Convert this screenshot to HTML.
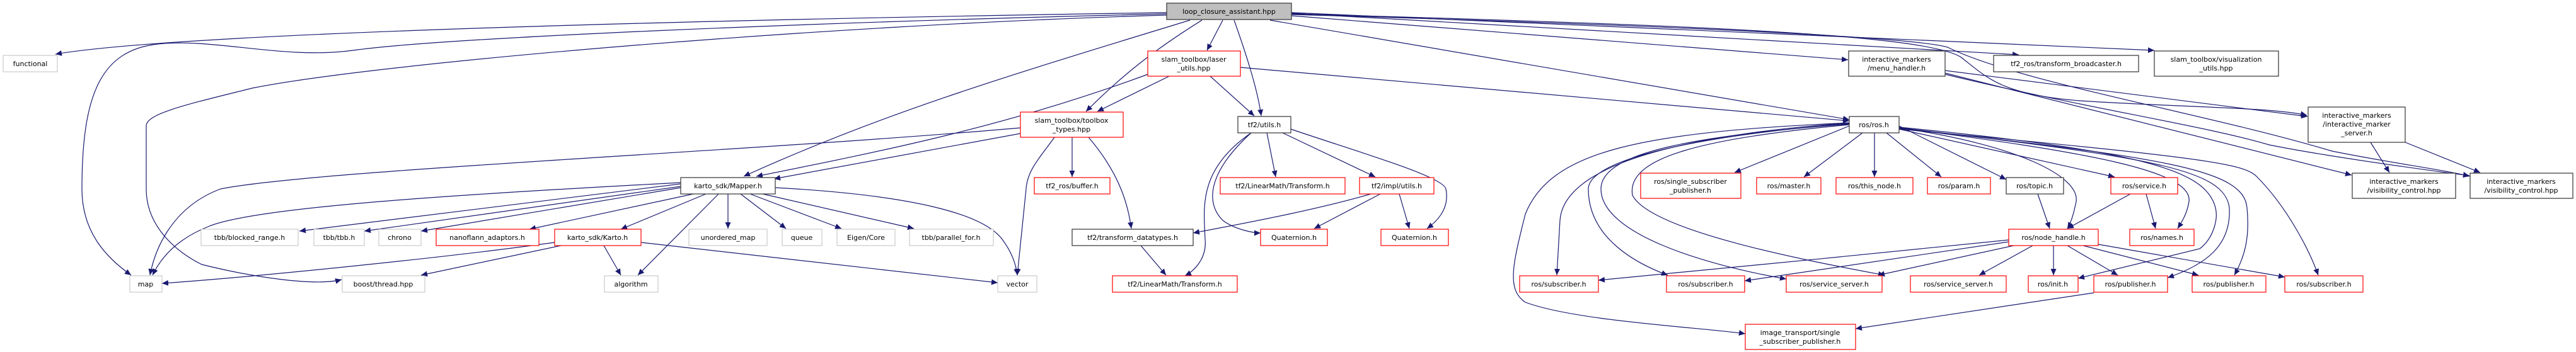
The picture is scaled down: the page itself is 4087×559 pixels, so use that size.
<!DOCTYPE html>
<html><head><meta charset="utf-8"><style>
html,body{margin:0;padding:0;background:#fff;}
svg{display:block;}
text{font-family:"DejaVu Sans","Liberation Sans",sans-serif;font-size:11px;fill:#000;text-anchor:middle;}
.e{fill:none;stroke:#191970;stroke-width:1.2;marker-end:url(#a);}
.g{fill:#fff;stroke:#bfbfbf;}
.b{fill:#fff;stroke:#404040;stroke-width:1.3;}
.r{fill:#fff;stroke:#ff0000;stroke-width:1.2;}
.m{fill:#bfbfbf;stroke:#404040;stroke-width:1.3;}
</style></head><body>
<svg width="4087" height="559" viewBox="0 0 4087 559" xmlns="http://www.w3.org/2000/svg">
<defs><marker id="a" markerUnits="userSpaceOnUse" markerWidth="11" markerHeight="9" refX="10" refY="4.5" orient="auto"><path d="M0,0 L10,4.5 L0,9 z" fill="#191970"/></marker></defs>
<g>
<!-- LCA edges -->
<path class="e" d="M1851,20 C1200,30 300,50 88,86"/>
<path class="e" d="M1851,22 C1300,35 700,60 560,80 C450,95 340,60 250,70 C160,80 130,150 130,300 C130,370 170,410 208,437"/>
<path class="e" d="M1851,24 C1300,40 600,100 400,140 C300,165 232,180 232,200 L232,300 C232,360 280,400 320,420 C400,440 500,455 542,444"/>
<path class="e" d="M1888,32 C1600,120 1400,180 1180,280"/>
<path class="e" d="M1940,32 L1915,80"/>
<path class="e" d="M1907,32 C1830,80 1780,120 1723,177"/>
<path class="e" d="M1958,32 C1975,80 1995,140 2001,184"/>
<path class="e" d="M2049,25 L2932,95"/>
<path class="e" d="M2015,32 L2934,190"/>
<path class="e" d="M2049,21 L3203,87"/>
<path class="e" d="M2049,20 L3418,80"/>
<path class="e" d="M2049,22 C2700,40 3050,55 3110,90 C3150,120 3170,150 3300,160 C3450,170 3600,170 3660,183"/>
<path class="e" d="M2049,23 C2700,42 3040,60 3090,75 C3200,130 3500,180 3700,240 C3800,260 3880,270 3918,280"/>
<!-- menu handler -->
<path class="e" d="M3086,112 L3661,185"/>
<path class="e" d="M3086,116 L3731,278"/>
<path class="e" d="M3086,118 C3300,170 3500,200 3600,230 C3700,250 3850,270 3918,279"/>
<path class="e" d="M3761,226 L3791,274"/>
<path class="e" d="M3816,226 L3935,274"/>
<!-- laser utils -->
<path class="e" d="M1968,107 L2934,192"/>
<path class="e" d="M1821,118 C1600,200 1400,240 1200,280"/>
<path class="e" d="M1855,121 L1741,177"/>
<path class="e" d="M1920,121 L1990,184"/>
<!-- toolbox types -->
<path class="e" d="M1619,212 L1228,284"/>
<path class="e" d="M1619,203 C1200,240 500,270 350,300 C270,330 245,400 238,437"/>
<path class="e" d="M1701,218 L1701,281"/>
<path class="e" d="M1673,218 C1650,250 1630,270 1628,300 L1614,437"/>
<path class="e" d="M1727,218 C1780,280 1790,330 1795,363"/>
<!-- Mapper -->
<path class="e" d="M1080,292 L475,367"/>
<path class="e" d="M1080,296 L578,367"/>
<path class="e" d="M1080,298 L668,367"/>
<path class="e" d="M1100,308 L840,364"/>
<path class="e" d="M1120,308 L985,364"/>
<path class="e" d="M1155,308 L1155,363"/>
<path class="e" d="M1175,308 L1247,363"/>
<path class="e" d="M1190,308 L1335,363"/>
<path class="e" d="M1210,308 L1450,363"/>
<path class="e" d="M1140,308 L1012,437"/>
<path class="e" d="M1230,298 C1450,310 1560,340 1590,380 C1605,400 1612,420 1614,437"/>
<path class="e" d="M1080,290 C700,310 400,330 330,360 C280,380 255,410 242,437"/>
<!-- Karto -->
<path class="e" d="M880,385 C700,410 400,440 257,450"/>
<path class="e" d="M890,390 L668,437"/>
<path class="e" d="M958,390 L985,437"/>
<path class="e" d="M1017,385 L1583,449"/>
<!-- tf2 utils -->
<path class="e" d="M2010,211 L2024,281"/>
<path class="e" d="M2035,211 L2182,281"/>
<path class="e" d="M2048,205 C2150,240 2290,280 2294,300 C2300,330 2282,350 2264,363"/>
<path class="e" d="M1985,211 C1900,270 1910,330 1912,380 C1915,410 1895,430 1880,438"/>
<path class="e" d="M1985,211 C1920,270 1910,320 1940,350 C1960,365 1990,370 2000,370"/>
<path class="e" d="M1810,390 L1850,437"/>
<!-- impl utils -->
<path class="e" d="M2175,308 C2100,330 2000,350 1893,370"/>
<path class="e" d="M2190,308 L2085,363"/>
<path class="e" d="M2220,308 L2236,363"/>
<!-- ros.h -->
<path class="e" d="M2934,200 L2752,274"/>
<path class="e" d="M2955,211 L2862,281"/>
<path class="e" d="M2974,211 L2974,281"/>
<path class="e" d="M2993,211 L3080,281"/>
<path class="e" d="M3013,200 L3183,285"/>
<path class="e" d="M3013,205 L3355,281"/>
<path class="e" d="M3013,203 C3200,230 3300,280 3294,320 C3290,340 3285,355 3280,363"/>
<path class="e" d="M3013,203 C3300,240 3480,270 3473,320 C3470,340 3460,355 3455,363"/>
<path class="e" d="M2934,195 C2600,220 2480,280 2475,350 L2470,437"/>
<path class="e" d="M2934,196 C2650,220 2520,260 2520,300 C2520,380 2600,420 2646,437"/>
<path class="e" d="M2934,197 C2700,215 2540,240 2540,300 C2540,370 2700,420 2834,443"/>
<path class="e" d="M2934,198 C2700,220 2580,250 2590,310 C2620,370 2900,420 2990,437"/>
<path class="e" d="M2934,195 C2600,210 2460,240 2420,340 C2400,420 2390,460 2420,480 C2500,510 2700,520 2769,530"/>
<path class="e" d="M3013,202 C3400,240 3500,270 3515,330 C3520,350 3510,380 3490,395 L3297,442"/>
<path class="e" d="M3013,203 C3420,250 3530,270 3537,330 C3540,390 3500,420 3439,441"/>
<path class="e" d="M3013,204 C3440,250 3560,270 3565,330 C3570,380 3560,410 3545,437"/>
<path class="e" d="M3013,205 C3500,250 3560,260 3580,280 C3630,330 3665,400 3678,437"/>
<!-- topic / service -->
<path class="e" d="M3233,308 L3252,363"/>
<path class="e" d="M3380,308 L3280,363"/>
<path class="e" d="M3405,308 L3420,363"/>
<!-- node_handle -->
<path class="e" d="M3187,381 C3000,400 2700,430 2536,445"/>
<path class="e" d="M3187,384 L2768,446"/>
<path class="e" d="M3195,390 L2980,437"/>
<path class="e" d="M3225,390 L3140,437"/>
<path class="e" d="M3258,390 L3258,437"/>
<path class="e" d="M3280,390 L3360,437"/>
<path class="e" d="M3305,390 L3488,437"/>
<path class="e" d="M3329,388 L3625,440"/>
<path class="e" d="M3322,465 L2944,522"/>
</g>
<g>
<rect class="m" x="1851" y="5" width="198" height="26"/><text x="1950" y="22">loop_closure_assistant.hpp</text>
<rect class="g" x="5" y="88" width="86" height="26"/><text x="48" y="105">functional</text>
<rect class="r" x="1821" y="81" width="147" height="40"/><text x="1894" y="98">slam_toolbox/laser</text><text x="1894" y="112">_utils.hpp</text>
<rect class="b" x="2933" y="81" width="153" height="40"/><text x="3009" y="98">interactive_markers</text><text x="3009" y="112">/menu_handler.h</text>
<rect class="b" x="3163" y="88" width="230" height="26"/><text x="3278" y="105">tf2_ros/transform_broadcaster.h</text>
<rect class="b" x="3418" y="81" width="197" height="40"/><text x="3516" y="98">slam_toolbox/visualization</text><text x="3516" y="112">_utils.hpp</text>
<rect class="r" x="1619" y="178" width="163" height="40"/><text x="1700" y="195">slam_toolbox/toolbox</text><text x="1700" y="209">_types.hpp</text>
<rect class="b" x="1964" y="185" width="84" height="26"/><text x="2006" y="202">tf2/utils.h</text>
<rect class="b" x="2934" y="185" width="79" height="26"/><text x="2973" y="202">ros/ros.h</text>
<rect class="b" x="3662" y="170" width="154" height="56"/><text x="3739" y="187">interactive_markers</text><text x="3739" y="201">/interactive_marker</text><text x="3739" y="215">_server.h</text>
<rect class="b" x="1080" y="282" width="150" height="26"/><text x="1155" y="299">karto_sdk/Mapper.h</text>
<rect class="r" x="1641" y="282" width="120" height="26"/><text x="1701" y="299">tf2_ros/buffer.h</text>
<rect class="r" x="1936" y="282" width="198" height="26"/><text x="2035" y="299">tf2/LinearMath/Transform.h</text>
<rect class="r" x="2157" y="282" width="118" height="26"/><text x="2216" y="299">tf2/impl/utils.h</text>
<rect class="r" x="2603" y="275" width="159" height="40"/><text x="2682" y="292">ros/single_subscriber</text><text x="2682" y="306">_publisher.h</text>
<rect class="r" x="2787" y="282" width="102" height="26"/><text x="2838" y="299">ros/master.h</text>
<rect class="r" x="2913" y="282" width="122" height="26"/><text x="2974" y="299">ros/this_node.h</text>
<rect class="r" x="3058" y="282" width="100" height="26"/><text x="3108" y="299">ros/param.h</text>
<rect class="b" x="3183" y="282" width="91" height="26"/><text x="3228" y="299">ros/topic.h</text>
<rect class="r" x="3349" y="282" width="106" height="26"/><text x="3402" y="299">ros/service.h</text>
<rect class="b" x="3732" y="275" width="164" height="40"/><text x="3814" y="292">interactive_markers</text><text x="3814" y="306">/visibility_control.hpp</text>
<rect class="b" x="3919" y="275" width="163" height="40"/><text x="4000" y="292">interactive_markers</text><text x="4000" y="306">/visibility_control.hpp</text>
<rect class="g" x="319" y="364" width="154" height="26"/><text x="396" y="381">tbb/blocked_range.h</text>
<rect class="g" x="498" y="364" width="80" height="26"/><text x="538" y="381">tbb/tbb.h</text>
<rect class="g" x="601" y="364" width="67" height="26"/><text x="634" y="381">chrono</text>
<rect class="r" x="692" y="364" width="163" height="26"/><text x="773" y="381">nanoflann_adaptors.h</text>
<rect class="r" x="880" y="364" width="137" height="26"/><text x="948" y="381">karto_sdk/Karto.h</text>
<rect class="g" x="1093" y="364" width="124" height="26"/><text x="1155" y="381">unordered_map</text>
<rect class="g" x="1241" y="364" width="63" height="26"/><text x="1272" y="381">queue</text>
<rect class="g" x="1328" y="364" width="92" height="26"/><text x="1374" y="381">Eigen/Core</text>
<rect class="g" x="1443" y="364" width="133" height="26"/><text x="1509" y="381">tbb/parallel_for.h</text>
<rect class="b" x="1701" y="364" width="192" height="26"/><text x="1797" y="381">tf2/transform_datatypes.h</text>
<rect class="r" x="2000" y="364" width="106" height="26"/><text x="2053" y="381">Quaternion.h</text>
<rect class="r" x="2191" y="364" width="107" height="26"/><text x="2244" y="381">Quaternion.h</text>
<rect class="r" x="3187" y="364" width="142" height="26"/><text x="3258" y="381">ros/node_handle.h</text>
<rect class="r" x="3379" y="364" width="102" height="26"/><text x="3430" y="381">ros/names.h</text>
<rect class="g" x="206" y="438" width="51" height="26"/><text x="231" y="455">map</text>
<rect class="g" x="543" y="438" width="131" height="26"/><text x="608" y="455">boost/thread.hpp</text>
<rect class="g" x="959" y="438" width="85" height="26"/><text x="1001" y="455">algorithm</text>
<rect class="g" x="1583" y="438" width="62" height="26"/><text x="1614" y="455">vector</text>
<rect class="r" x="1765" y="438" width="198" height="26"/><text x="1864" y="455">tf2/LinearMath/Transform.h</text>
<rect class="r" x="2411" y="438" width="125" height="26"/><text x="2473" y="455">ros/subscriber.h</text>
<rect class="r" x="2644" y="438" width="124" height="26"/><text x="2706" y="455">ros/subscriber.h</text>
<rect class="r" x="2834" y="438" width="152" height="26"/><text x="2910" y="455">ros/service_server.h</text>
<rect class="r" x="3031" y="438" width="152" height="26"/><text x="3107" y="455">ros/service_server.h</text>
<rect class="r" x="3218" y="438" width="79" height="26"/><text x="3257" y="455">ros/init.h</text>
<rect class="r" x="3322" y="438" width="117" height="26"/><text x="3380" y="455">ros/publisher.h</text>
<rect class="r" x="3478" y="438" width="117" height="26"/><text x="3536" y="455">ros/publisher.h</text>
<rect class="r" x="3625" y="438" width="124" height="26"/><text x="3687" y="455">ros/subscriber.h</text>
<rect class="r" x="2769" y="515" width="175" height="40"/><text x="2856" y="532">image_transport/single</text><text x="2856" y="546">_subscriber_publisher.h</text>
</g>
</svg>
</body></html>
